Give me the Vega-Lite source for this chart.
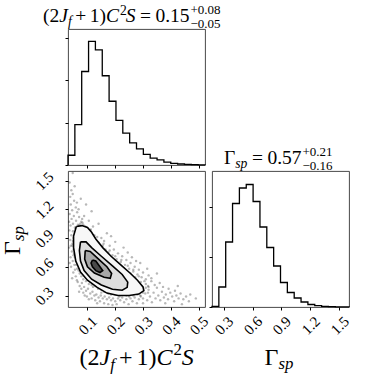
{
"$schema": "https://vega.github.io/schema/vega-lite/v6.json",
"padding": {"left": 0, "top": 3, "right": 0, "bottom": 0},
"background": "white",
"config": {
 "view": {"stroke": "#333", "strokeWidth": 0.9},
 "font": "Liberation Serif",
 "axis": {"domain": false, "grid": false, "title": null, "ticks": true, "tickSize": 3, "tickColor": "black", "tickWidth": 1, "labelFont": "Liberation Serif", "labelFontSize": 15, "labelColor": "black", "labelOverlap": false, "labelFlush": false}
},
"datasets": {
 "h1": [
  {"i":0,"x":0.03,"h":0},{"i":1,"x":0.03,"h":0.23},{"i":2,"x":0.0547,"h":0.95},{"i":3,"x":0.0793,"h":2.2},{"i":4,"x":0.104,"h":2.91},{"i":5,"x":0.1286,"h":2.71},{"i":6,"x":0.1533,"h":2.1},{"i":7,"x":0.1779,"h":1.5},{"i":8,"x":0.2026,"h":1.05},{"i":9,"x":0.2272,"h":0.75},{"i":10,"x":0.2519,"h":0.52},{"i":11,"x":0.2765,"h":0.38},{"i":12,"x":0.3012,"h":0.25},{"i":13,"x":0.3258,"h":0.16},{"i":14,"x":0.3505,"h":0.12},{"i":15,"x":0.3751,"h":0.07},{"i":16,"x":0.3998,"h":0.04},{"i":17,"x":0.4244,"h":0.024},{"i":18,"x":0.4491,"h":0.016},{"i":19,"x":0.4737,"h":0.01},{"i":20,"x":0.4984,"h":0.005},{"i":21,"x":0.523,"h":0.005},{"i":22,"x":0.523,"h":0}
 ],
 "h2": [
  {"i":0,"x":0.18,"h":0},{"i":1,"x":0.18,"h":0.014},{"i":2,"x":0.251,"h":0.4},{"i":3,"x":0.322,"h":1.3},{"i":4,"x":0.393,"h":2.07},{"i":5,"x":0.464,"h":2.38},{"i":6,"x":0.535,"h":2.45},{"i":7,"x":0.606,"h":2.11},{"i":8,"x":0.677,"h":1.6},{"i":9,"x":0.748,"h":1.19},{"i":10,"x":0.819,"h":0.82},{"i":11,"x":0.89,"h":0.49},{"i":12,"x":0.961,"h":0.29},{"i":13,"x":1.032,"h":0.18},{"i":14,"x":1.103,"h":0.1},{"i":15,"x":1.174,"h":0.05},{"i":16,"x":1.245,"h":0.026},{"i":17,"x":1.316,"h":0.012},{"i":18,"x":1.387,"h":0.006},{"i":19,"x":1.458,"h":0.003},{"i":20,"x":1.529,"h":0.002},{"i":21,"x":1.6,"h":0.002},{"i":22,"x":1.6,"h":0}
 ],
 "pts": [
  {"x":0.036,"y":1.48},{"x":0.042,"y":1.40},{"x":0.038,"y":1.33},{"x":0.047,"y":1.36},{"x":0.052,"y":1.29},{"x":0.040,"y":1.25},{"x":0.058,"y":1.22},{"x":0.045,"y":1.19},{"x":0.063,"y":1.17},{"x":0.036,"y":1.15},{"x":0.051,"y":1.13},{"x":0.070,"y":1.12},{"x":0.043,"y":1.10},{"x":0.059,"y":1.08},{"x":0.078,"y":1.07},{"x":0.048,"y":1.05},{"x":0.066,"y":1.04},{"x":0.085,"y":1.04},{"x":0.039,"y":1.03},{"x":0.055,"y":1.01},{"x":0.092,"y":1.02},{"x":0.074,"y":1.05},{"x":0.062,"y":1.27},{"x":0.068,"y":1.20},{"x":0.081,"y":1.10},{"x":0.034,"y":1.07},{"x":0.100,"y":1.00},{"x":0.088,"y":1.13},{"x":0.054,"y":1.44},{"x":0.076,"y":1.31},{"x":0.105,"y":1.08},{"x":0.047,"y":1.58},{"x":0.095,"y":1.25},{"x":0.115,"y":1.18},
  {"x":0.035,"y":0.98},{"x":0.042,"y":0.93},{"x":0.048,"y":0.97},{"x":0.038,"y":0.88},{"x":0.046,"y":0.84},{"x":0.034,"y":0.80},{"x":0.044,"y":0.76},{"x":0.050,"y":0.72},{"x":0.039,"y":0.70},{"x":0.047,"y":0.66},{"x":0.053,"y":0.62},{"x":0.041,"y":0.60},{"x":0.055,"y":0.57},{"x":0.049,"y":0.54},{"x":0.036,"y":0.64},{"x":0.058,"y":0.50},{"x":0.045,"y":0.48},{"x":0.062,"y":0.46},{"x":0.052,"y":0.90},{"x":0.040,"y":0.82},
  {"x":0.065,"y":0.44},{"x":0.072,"y":0.40},{"x":0.080,"y":0.43},{"x":0.078,"y":0.37},{"x":0.088,"y":0.39},{"x":0.095,"y":0.35},{"x":0.085,"y":0.33},{"x":0.102,"y":0.37},{"x":0.110,"y":0.32},{"x":0.098,"y":0.29},{"x":0.118,"y":0.34},{"x":0.125,"y":0.30},{"x":0.115,"y":0.27},{"x":0.132,"y":0.31},{"x":0.140,"y":0.28},{"x":0.128,"y":0.25},{"x":0.148,"y":0.30},{"x":0.155,"y":0.27},{"x":0.145,"y":0.24},{"x":0.162,"y":0.29},{"x":0.170,"y":0.26},{"x":0.160,"y":0.22},{"x":0.178,"y":0.28},{"x":0.185,"y":0.25},{"x":0.175,"y":0.21},{"x":0.192,"y":0.27},{"x":0.200,"y":0.24},{"x":0.210,"y":0.27},{"x":0.205,"y":0.21},{"x":0.218,"y":0.25},{"x":0.225,"y":0.28},{"x":0.232,"y":0.23},{"x":0.240,"y":0.26},{"x":0.248,"y":0.21},{"x":0.255,"y":0.27},{"x":0.262,"y":0.24},{"x":0.270,"y":0.28},{"x":0.278,"y":0.22},{"x":0.285,"y":0.26},{"x":0.292,"y":0.29},{"x":0.105,"y":0.26},{"x":0.135,"y":0.22},{"x":0.190,"y":0.20},{"x":0.090,"y":0.30},{"x":0.070,"y":0.34},{"x":0.120,"y":0.39},{"x":0.150,"y":0.33},
  {"x":0.300,"y":0.27},{"x":0.308,"y":0.32},{"x":0.315,"y":0.25},{"x":0.320,"y":0.36},{"x":0.325,"y":0.29},{"x":0.332,"y":0.23},{"x":0.338,"y":0.33},{"x":0.345,"y":0.27},{"x":0.350,"y":0.38},{"x":0.355,"y":0.30},{"x":0.362,"y":0.25},{"x":0.368,"y":0.34},{"x":0.375,"y":0.28},{"x":0.382,"y":0.31},{"x":0.390,"y":0.26},{"x":0.398,"y":0.33},{"x":0.405,"y":0.29},{"x":0.412,"y":0.24},{"x":0.420,"y":0.30},{"x":0.428,"y":0.27},{"x":0.435,"y":0.32},{"x":0.445,"y":0.26},{"x":0.455,"y":0.29},{"x":0.465,"y":0.24},{"x":0.310,"y":0.42},{"x":0.330,"y":0.45},{"x":0.318,"y":0.40},{"x":0.342,"y":0.41},{"x":0.360,"y":0.43},{"x":0.372,"y":0.39},{"x":0.392,"y":0.37},{"x":0.415,"y":0.35},{"x":0.380,"y":0.22},{"x":0.440,"y":0.21},{"x":0.300,"y":0.22},{"x":0.470,"y":0.31},{"x":0.490,"y":0.27},{"x":0.425,"y":0.40},
  {"x":0.110,"y":0.98},{"x":0.125,"y":0.93},{"x":0.130,"y":0.88},{"x":0.140,"y":0.85},{"x":0.120,"y":1.02},{"x":0.150,"y":0.90},{"x":0.155,"y":0.82},{"x":0.165,"y":0.78},{"x":0.160,"y":0.87},{"x":0.175,"y":0.75},{"x":0.180,"y":0.82},{"x":0.190,"y":0.72},{"x":0.195,"y":0.78},{"x":0.205,"y":0.68},{"x":0.210,"y":0.74},{"x":0.220,"y":0.65},{"x":0.225,"y":0.71},{"x":0.235,"y":0.62},{"x":0.240,"y":0.67},{"x":0.250,"y":0.58},{"x":0.255,"y":0.64},{"x":0.265,"y":0.55},{"x":0.270,"y":0.60},{"x":0.280,"y":0.52},{"x":0.285,"y":0.57},{"x":0.295,"y":0.49},{"x":0.300,"y":0.54},{"x":0.310,"y":0.47},{"x":0.320,"y":0.51},{"x":0.330,"y":0.48},{"x":0.170,"y":0.95},{"x":0.200,"y":0.86},{"x":0.230,"y":0.80},{"x":0.260,"y":0.70},{"x":0.290,"y":0.64},{"x":0.315,"y":0.58},{"x":0.140,"y":1.05},{"x":0.185,"y":0.92},{"x":0.350,"y":0.53},{"x":0.245,"y":0.75},{"x":0.275,"y":0.66},
  {"x":0.058,"y":1.00},{"x":0.070,"y":1.03},{"x":0.095,"y":1.01},{"x":0.108,"y":0.95},{"x":0.128,"y":0.87},{"x":0.145,"y":0.80},{"x":0.168,"y":0.74},{"x":0.188,"y":0.68},{"x":0.210,"y":0.63},{"x":0.232,"y":0.58},{"x":0.255,"y":0.53},{"x":0.272,"y":0.49},{"x":0.292,"y":0.44},{"x":0.310,"y":0.38},{"x":0.300,"y":0.33},{"x":0.280,"y":0.31},{"x":0.250,"y":0.29},{"x":0.215,"y":0.29},{"x":0.185,"y":0.31},{"x":0.160,"y":0.34},{"x":0.138,"y":0.37},{"x":0.115,"y":0.41},{"x":0.095,"y":0.45},{"x":0.078,"y":0.50},{"x":0.068,"y":0.56},{"x":0.060,"y":0.62},{"x":0.055,"y":0.70},{"x":0.050,"y":0.78},{"x":0.048,"y":0.87},{"x":0.055,"y":0.94},{"x":0.062,"y":0.98},{"x":0.082,"y":1.06},{"x":0.112,"y":0.99},{"x":0.135,"y":0.91},{"x":0.158,"y":0.84},{"x":0.180,"y":0.77},{"x":0.200,"y":0.71},{"x":0.222,"y":0.67},{"x":0.245,"y":0.61},{"x":0.265,"y":0.57},{"x":0.285,"y":0.50},{"x":0.305,"y":0.45},{"x":0.320,"y":0.39},{"x":0.318,"y":0.33},{"x":0.290,"y":0.30},{"x":0.265,"y":0.30},{"x":0.240,"y":0.30},{"x":0.200,"y":0.31},{"x":0.175,"y":0.32},{"x":0.150,"y":0.36},{"x":0.128,"y":0.40},{"x":0.105,"y":0.42},{"x":0.085,"y":0.47},{"x":0.072,"y":0.53},{"x":0.063,"y":0.58},{"x":0.058,"y":0.66},{"x":0.052,"y":0.74},{"x":0.046,"y":0.82},{"x":0.050,"y":0.90}
 ],
 "c1": [
  {"i":0,"x":0.060,"y":1.02},{"i":1,"x":0.080,"y":1.03},{"i":2,"x":0.100,"y":1.01},{"i":3,"x":0.115,"y":0.96},{"i":4,"x":0.130,"y":0.89},{"i":5,"x":0.155,"y":0.80},{"i":6,"x":0.185,"y":0.71},{"i":7,"x":0.220,"y":0.62},{"i":8,"x":0.255,"y":0.53},{"i":9,"x":0.280,"y":0.46},{"i":10,"x":0.300,"y":0.39},{"i":11,"x":0.303,"y":0.35},{"i":12,"x":0.285,"y":0.315},{"i":13,"x":0.250,"y":0.30},{"i":14,"x":0.210,"y":0.30},{"i":15,"x":0.170,"y":0.325},{"i":16,"x":0.135,"y":0.385},{"i":17,"x":0.100,"y":0.46},{"i":18,"x":0.075,"y":0.545},{"i":19,"x":0.058,"y":0.66},{"i":20,"x":0.050,"y":0.80},{"i":21,"x":0.050,"y":0.92},{"i":22,"x":0.060,"y":1.02}
 ],
 "c2": [
  {"i":0,"x":0.075,"y":0.86},{"i":1,"x":0.095,"y":0.86},{"i":2,"x":0.115,"y":0.80},{"i":3,"x":0.150,"y":0.71},{"i":4,"x":0.190,"y":0.61},{"i":5,"x":0.225,"y":0.52},{"i":6,"x":0.245,"y":0.44},{"i":7,"x":0.243,"y":0.385},{"i":8,"x":0.225,"y":0.355},{"i":9,"x":0.190,"y":0.365},{"i":10,"x":0.150,"y":0.41},{"i":11,"x":0.115,"y":0.47},{"i":12,"x":0.088,"y":0.56},{"i":13,"x":0.075,"y":0.66},{"i":14,"x":0.071,"y":0.77},{"i":15,"x":0.075,"y":0.86}
 ],
 "c3": [
  {"i":0,"x":0.092,"y":0.77},{"i":1,"x":0.110,"y":0.76},{"i":2,"x":0.140,"y":0.68},{"i":3,"x":0.170,"y":0.60},{"i":4,"x":0.187,"y":0.53},{"i":5,"x":0.182,"y":0.48},{"i":6,"x":0.160,"y":0.49},{"i":7,"x":0.125,"y":0.535},{"i":8,"x":0.100,"y":0.60},{"i":9,"x":0.090,"y":0.68},{"i":10,"x":0.092,"y":0.77}
 ],
 "c4": [
  {"i":0,"x":0.118,"y":0.67},{"i":1,"x":0.130,"y":0.66},{"i":2,"x":0.145,"y":0.60},{"i":3,"x":0.155,"y":0.56},{"i":4,"x":0.145,"y":0.54},{"i":5,"x":0.130,"y":0.56},{"i":6,"x":0.118,"y":0.60},{"i":7,"x":0.113,"y":0.64},{"i":8,"x":0.118,"y":0.67}
 ]
},
"bounds": "flush",
"spacing": 6,
"vconcat": [
 {
  "width": 137, "height": 136,
  "layer": [
   {"data": {"name": "h1"}, "mark": {"type": "line", "interpolate": "step-after", "color": "black", "strokeWidth": 1.3},
    "encoding": {
     "x": {"field": "x", "type": "quantitative", "scale": {"domain": [0.03, 0.523], "nice": false, "zero": false}, "axis": {"values": [0.1, 0.2, 0.3, 0.4, 0.5], "labels": false}},
     "y": {"field": "h", "type": "quantitative", "scale": {"domain": [0, 3.2], "nice": false}, "axis": {"values": [0, 1, 2, 3], "labels": false}},
     "order": {"field": "i"}}},
   {"data": {"values": [{}]}, "mark": {"type": "text", "text": "(2", "x": -25, "y": -7, "align": "left", "baseline": "alphabetic", "font": "Liberation Serif", "fontSize": 19.5, "color": "black"}},
   {"data": {"values": [{}]}, "mark": {"type": "text", "text": "J", "x": -8.8, "y": -7, "align": "left", "baseline": "alphabetic", "font": "Liberation Serif", "fontStyle": "italic", "fontSize": 19.5, "color": "black"}},
   {"data": {"values": [{}]}, "mark": {"type": "text", "text": "f", "x": -0.1, "y": -3, "align": "left", "baseline": "alphabetic", "font": "Liberation Serif", "fontStyle": "italic", "fontSize": 13.6, "color": "black"}},
   {"data": {"values": [{}]}, "mark": {"type": "text", "text": "+", "x": 7.2, "y": -7, "align": "left", "baseline": "alphabetic", "font": "Liberation Serif", "fontSize": 19.5, "color": "black"}},
   {"data": {"values": [{}]}, "mark": {"type": "text", "text": "1)", "x": 21.7, "y": -7, "align": "left", "baseline": "alphabetic", "font": "Liberation Serif", "fontSize": 19.5, "color": "black"}},
   {"data": {"values": [{}]}, "mark": {"type": "text", "text": "C", "x": 37.9, "y": -7, "align": "left", "baseline": "alphabetic", "font": "Liberation Serif", "fontStyle": "italic", "fontSize": 19.5, "color": "black"}},
   {"data": {"values": [{}]}, "mark": {"type": "text", "text": "2", "x": 51.9, "y": -14.5, "align": "left", "baseline": "alphabetic", "font": "Liberation Serif", "fontSize": 13.6, "color": "black"}},
   {"data": {"values": [{}]}, "mark": {"type": "text", "text": "S", "x": 57.7, "y": -7, "align": "left", "baseline": "alphabetic", "font": "Liberation Serif", "fontStyle": "italic", "fontSize": 19.5, "color": "black"}},
   {"data": {"values": [{}]}, "mark": {"type": "text", "text": "=", "x": 71.9, "y": -7, "align": "left", "baseline": "alphabetic", "font": "Liberation Serif", "fontSize": 19.5, "color": "black"}},
   {"data": {"values": [{}]}, "mark": {"type": "text", "text": "0.15", "x": 87.4, "y": -7, "align": "left", "baseline": "alphabetic", "font": "Liberation Serif", "fontSize": 19.5, "color": "black"}},
   {"data": {"values": [{}]}, "mark": {"type": "text", "text": "+0.08", "x": 122.5, "y": -15, "align": "left", "baseline": "alphabetic", "font": "Liberation Serif", "fontSize": 13, "color": "black"}},
   {"data": {"values": [{}]}, "mark": {"type": "text", "text": "−0.05", "x": 122.5, "y": -1, "align": "left", "baseline": "alphabetic", "font": "Liberation Serif", "fontSize": 13, "color": "black"}}
  ]
 },
 {
  "bounds": "flush",
  "spacing": 7,
  "hconcat": [
   {
    "width": 137, "height": 136,
    "layer": [
     {
      "encoding": {
       "x": {"field": "x", "type": "quantitative", "scale": {"domain": [0.03, 0.523], "nice": false, "zero": false}, "axis": {"values": [0.1, 0.2, 0.3, 0.4, 0.5], "labelAngle": -45, "labelAlign": "center", "labelBaseline": "middle", "labelPadding": 15, "labelOverlap": false}},
       "y": {"field": "y", "type": "quantitative", "scale": {"domain": [0.18, 1.6], "nice": false, "zero": false}, "axis": {"values": [0.3, 0.6, 0.9, 1.2, 1.5], "labelAngle": -45, "labelAlign": "center", "labelBaseline": "middle", "labelPadding": 21, "labelOverlap": false}}
      },
      "layer": [
       {"data": {"name": "pts"}, "mark": {"type": "circle", "size": 6, "color": "black", "opacity": 0.28, "clip": true}},
       {"data": {"name": "c1"}, "mark": {"type": "line", "fill": "#f7f7f7", "stroke": "black", "strokeWidth": 1.6}, "encoding": {"order": {"field": "i"}}},
       {"data": {"name": "c2"}, "mark": {"type": "line", "fill": "#dedede", "stroke": "black", "strokeWidth": 1.6}, "encoding": {"order": {"field": "i"}}},
       {"data": {"name": "c3"}, "mark": {"type": "line", "fill": "#a8a8a8", "stroke": "black", "strokeWidth": 1.6}, "encoding": {"order": {"field": "i"}}},
       {"data": {"name": "c4"}, "mark": {"type": "line", "fill": "#4a4a4a", "stroke": "black", "strokeWidth": 1.6}, "encoding": {"order": {"field": "i"}}}
      ]
     },
     {"data": {"values": [{}]}, "mark": {"type": "text", "text": "(2", "x": 11.5, "y": 194, "align": "left", "baseline": "alphabetic", "font": "Liberation Serif", "fontSize": 24, "color": "black"}},
     {"data": {"values": [{}]}, "mark": {"type": "text", "text": "J", "x": 31.5, "y": 194, "align": "left", "baseline": "alphabetic", "font": "Liberation Serif", "fontStyle": "italic", "fontSize": 24, "color": "black"}},
     {"data": {"values": [{}]}, "mark": {"type": "text", "text": "f", "x": 42.2, "y": 199, "align": "left", "baseline": "alphabetic", "font": "Liberation Serif", "fontStyle": "italic", "fontSize": 16.8, "color": "black"}},
     {"data": {"values": [{}]}, "mark": {"type": "text", "text": "+", "x": 50.9, "y": 194, "align": "left", "baseline": "alphabetic", "font": "Liberation Serif", "fontSize": 24, "color": "black"}},
     {"data": {"values": [{}]}, "mark": {"type": "text", "text": "1)", "x": 68.4, "y": 194, "align": "left", "baseline": "alphabetic", "font": "Liberation Serif", "fontSize": 24, "color": "black"}},
     {"data": {"values": [{}]}, "mark": {"type": "text", "text": "C", "x": 88.4, "y": 194, "align": "left", "baseline": "alphabetic", "font": "Liberation Serif", "fontStyle": "italic", "fontSize": 24, "color": "black"}},
     {"data": {"values": [{}]}, "mark": {"type": "text", "text": "2", "x": 105.4, "y": 184, "align": "left", "baseline": "alphabetic", "font": "Liberation Serif", "fontSize": 16.8, "color": "black"}},
     {"data": {"values": [{}]}, "mark": {"type": "text", "text": "S", "x": 113.8, "y": 194, "align": "left", "baseline": "alphabetic", "font": "Liberation Serif", "fontStyle": "italic", "fontSize": 24, "color": "black"}},
     {"data": {"values": [{}]}, "mark": {"type": "text", "text": "Γ", "x": -48, "y": 84, "angle": 270, "align": "left", "baseline": "alphabetic", "font": "Liberation Serif", "fontSize": 24, "color": "black"}},
     {"data": {"values": [{}]}, "mark": {"type": "text", "text": "sp", "x": -44, "y": 70, "angle": 270, "align": "left", "baseline": "alphabetic", "font": "Liberation Serif", "fontStyle": "italic", "fontSize": 16.8, "color": "black"}}
    ]
   },
   {
    "width": 137, "height": 136,
    "layer": [
     {"data": {"name": "h2"}, "mark": {"type": "line", "interpolate": "step-after", "color": "black", "strokeWidth": 1.3},
      "encoding": {
       "x": {"field": "x", "type": "quantitative", "scale": {"domain": [0.18, 1.6], "nice": false, "zero": false}, "axis": {"values": [0.3, 0.6, 0.9, 1.2, 1.5], "labelAngle": -45, "labelAlign": "center", "labelBaseline": "middle", "labelPadding": 15, "labelOverlap": false}},
       "y": {"field": "h", "type": "quantitative", "scale": {"domain": [0, 2.72], "nice": false}, "axis": {"values": [0, 1, 2], "labels": false}},
       "order": {"field": "i"}}},
     {"data": {"values": [{}]}, "mark": {"type": "text", "text": "Γ", "x": 12, "y": -7, "align": "left", "baseline": "alphabetic", "font": "Liberation Serif", "fontSize": 19.5, "color": "black"}},
     {"data": {"values": [{}]}, "mark": {"type": "text", "text": "sp", "x": 23.3, "y": -3, "align": "left", "baseline": "alphabetic", "font": "Liberation Serif", "fontStyle": "italic", "fontSize": 13.6, "color": "black"}},
     {"data": {"values": [{}]}, "mark": {"type": "text", "text": "=", "x": 39.9, "y": -7, "align": "left", "baseline": "alphabetic", "font": "Liberation Serif", "fontSize": 19.5, "color": "black"}},
     {"data": {"values": [{}]}, "mark": {"type": "text", "text": "0.57", "x": 55.4, "y": -7, "align": "left", "baseline": "alphabetic", "font": "Liberation Serif", "fontSize": 19.5, "color": "black"}},
     {"data": {"values": [{}]}, "mark": {"type": "text", "text": "+0.21", "x": 90.5, "y": -15, "align": "left", "baseline": "alphabetic", "font": "Liberation Serif", "fontSize": 13, "color": "black"}},
     {"data": {"values": [{}]}, "mark": {"type": "text", "text": "−0.16", "x": 90.5, "y": -1, "align": "left", "baseline": "alphabetic", "font": "Liberation Serif", "fontSize": 13, "color": "black"}},
     {"data": {"values": [{}]}, "mark": {"type": "text", "text": "Γ", "x": 52.5, "y": 194, "align": "left", "baseline": "alphabetic", "font": "Liberation Serif", "fontSize": 24, "color": "black"}},
     {"data": {"values": [{}]}, "mark": {"type": "text", "text": "sp", "x": 66.4, "y": 198, "align": "left", "baseline": "alphabetic", "font": "Liberation Serif", "fontStyle": "italic", "fontSize": 16.8, "color": "black"}}
    ]
   }
  ]
 }
]
}
